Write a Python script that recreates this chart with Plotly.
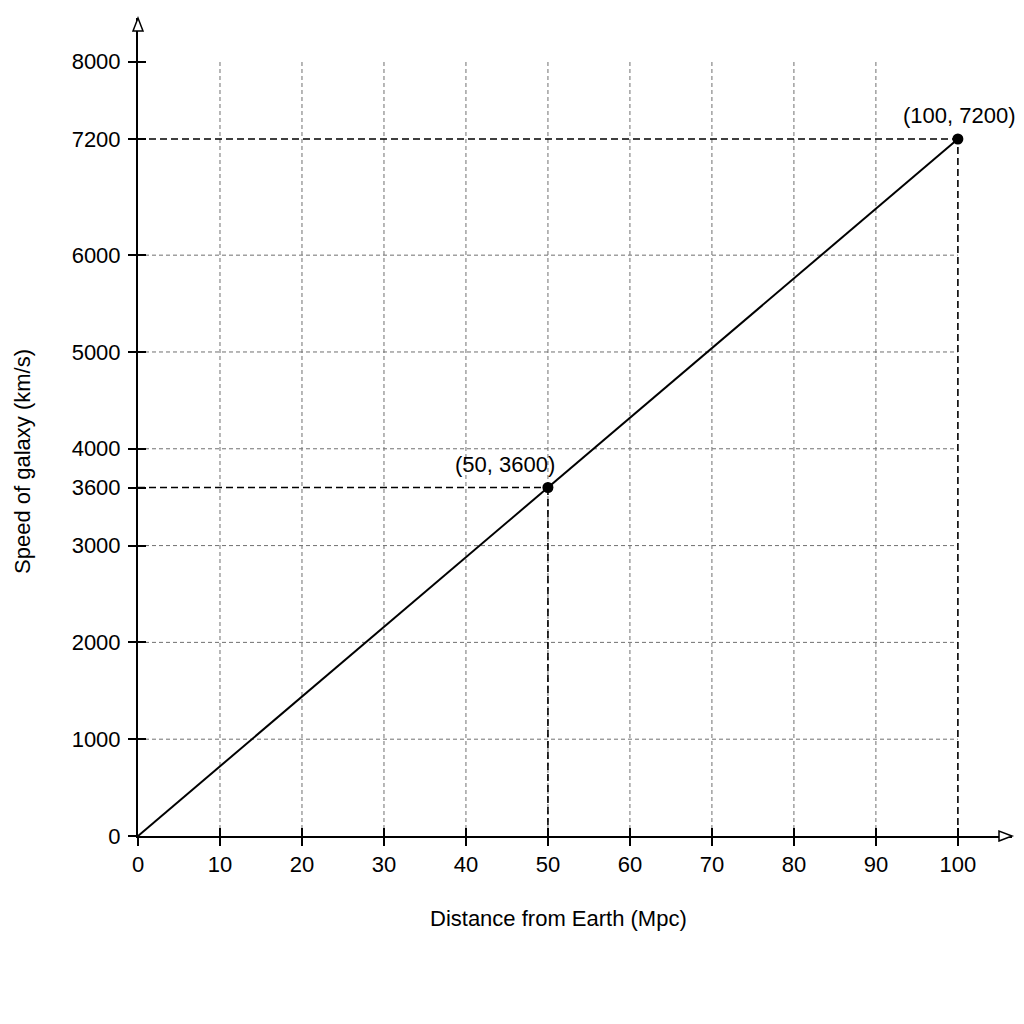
import plotly.graph_objects as go

# Hubble law: speed vs distance
distance = [0, 50, 100]
speed = [0, 3600, 7200]
marked_x = [50, 100]
marked_y = [3600, 7200]
marked_text = ["(50, 3600)", "(100, 7200)"]

x_ticks = [0, 10, 20, 30, 40, 50, 60, 70, 80, 90, 100]
y_ticks = [0, 1000, 2000, 3000, 3600, 4000, 5000, 6000, 7200, 8000]

x_end = 106.6
y_end = 8450
tick_font = dict(family="Liberation Sans Narrow, Liberation Sans, Arial, sans-serif", size=22, color="black")
title_font = dict(family="Liberation Sans, Arial, sans-serif", size=22, color="black")

fig = go.Figure()

# main line
fig.add_trace(go.Scatter(x=distance, y=speed, mode="lines",
                         line=dict(color="black", width=2), showlegend=False))
# points
fig.add_trace(go.Scatter(x=marked_x, y=marked_y, mode="markers", cliponaxis=False,
                         marker=dict(color="black", size=11), showlegend=False))
# dummy trace so the overlay axes (inner tick halves) are drawn
fig.add_trace(go.Scatter(x=[None], y=[None], xaxis="x2", yaxis="y2", showlegend=False))

shapes = []
# gray grid lines
for xv in x_ticks[1:-1]:
    shapes.append(dict(type="line", xref="x", yref="y", x0=xv, x1=xv, y0=0, y1=y_ticks[-1],
                       line=dict(color="#707070", width=1, dash="4px,3px"), layer="below"))
for yv in y_ticks:
    if yv % 1000 == 0 and 0 < yv < max(speed):
        shapes.append(dict(type="line", xref="x", yref="y", x0=0, x1=x_ticks[-1], y0=yv, y1=yv,
                           line=dict(color="#707070", width=1, dash="4px,3px"), layer="below"))
# black guide lines to the marked points
for xv, yv in zip(marked_x, marked_y):
    shapes.append(dict(type="line", xref="x", yref="y", x0=0, x1=xv, y0=yv, y1=yv,
                       line=dict(color="black", width=1.6, dash="7px,4px")))
    shapes.append(dict(type="line", xref="x", yref="y", x0=xv, x1=xv, y0=0, y1=yv,
                       line=dict(color="black", width=1.6, dash="7px,4px")))
# open arrowheads at the axis ends (paper refs so they are not clipped)
shapes.append(dict(type="path", xref="paper", yref="paper", xsizemode="pixel", ysizemode="pixel",
                   xanchor=1, yanchor=0, path="M -13 -5 L 0 0 L -13 5 Z",
                   line=dict(color="black", width=1.5), fillcolor="white"))
shapes.append(dict(type="path", xref="paper", yref="paper", xsizemode="pixel", ysizemode="pixel",
                   xanchor=0, yanchor=1, path="M -5 -13 L 0 0 L 5 -13 Z",
                   line=dict(color="black", width=1.5), fillcolor="white"))

annotations = []
shifts = [(-43, 23), (2, 24)]
for xv, yv, t, (dx, dy) in zip(marked_x, marked_y, marked_text, shifts):
    annotations.append(dict(x=xv, y=yv, xref="x", yref="y", text=t, showarrow=False,
                            xshift=dx, yshift=dy, font=tick_font))
annotations.append(dict(x=0.5, y=0, xref="paper", yref="paper", text="Distance from Earth (Mpc)",
                        showarrow=False, xshift=-17, yshift=-82, yanchor="middle", font=title_font))
annotations.append(dict(x=0, y=0.5, xref="paper", yref="paper", text="Speed of galaxy (km/s)",
                        showarrow=False, textangle=-90, xshift=-116, yshift=-35, xanchor="center",
                        font=title_font))

axis_common = dict(showgrid=False, zeroline=False, showline=True, linecolor="black", linewidth=2,
                   ticks="outside", ticklen=8, tickwidth=1.6, tickcolor="black", tickfont=tick_font)

fig.update_layout(
    width=1016, height=1016,
    margin=dict(l=130, r=12, t=10, b=188),
    plot_bgcolor="white", paper_bgcolor="white",
    xaxis=dict(range=[0, x_end], tickvals=x_ticks, ticktext=[str(v) for v in x_ticks], **axis_common),
    yaxis=dict(range=[0, y_end], tickvals=y_ticks, ticktext=[str(v) for v in y_ticks],
               ticklabelstandoff=3, **axis_common),
    xaxis2=dict(range=[0, x_end], overlaying="x", tickvals=x_ticks, showticklabels=False,
                ticks="inside", ticklen=8, tickwidth=1.6, tickcolor="black",
                showgrid=False, zeroline=False, showline=False),
    yaxis2=dict(range=[0, y_end], overlaying="y", tickvals=y_ticks, showticklabels=False,
                ticks="inside", ticklen=8, tickwidth=1.6, tickcolor="black",
                showgrid=False, zeroline=False, showline=False),
    shapes=shapes,
    annotations=annotations,
)

fig.write_html("out.html")
